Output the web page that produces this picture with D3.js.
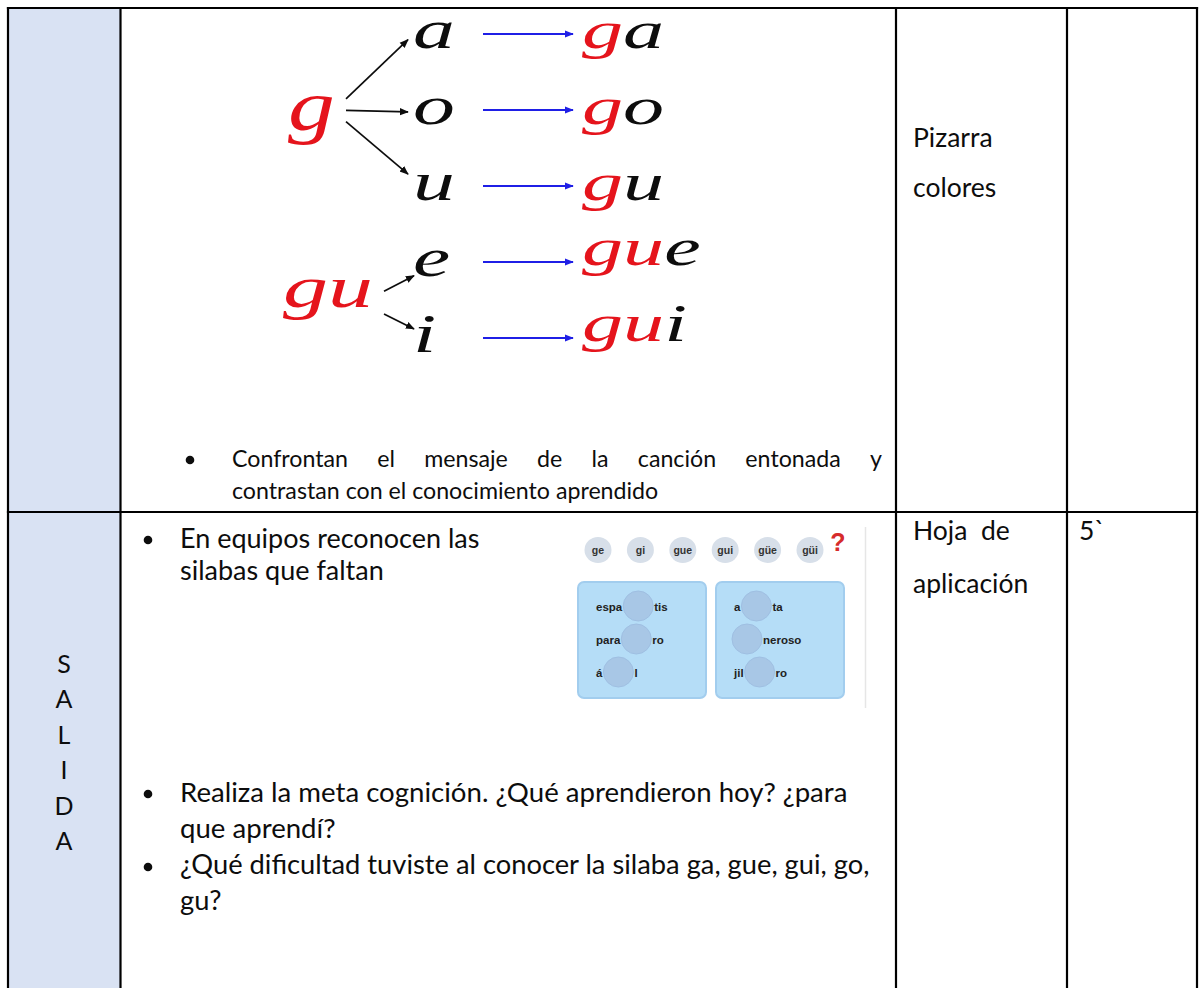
<!DOCTYPE html>
<html><head><meta charset="utf-8">
<script src="https://cdn.jsdelivr.net/npm/d3@7"></script>
<style>
html,body{margin:0;padding:0;background:#fff;}
svg{display:block;}
</style></head>
<body>
<svg id="c" width="1199" height="988"></svg>
<script>
// ---------- data ----------
const prefixes = ["g","g","g","gu","gu"];
const vowels = ["a","o","u","e","i"];
const sources = ["g","gu"];
const inicioBullet = ["Confrontan el mensaje de la canción entonada y","contrastan con el conocimiento aprendido"];
const salidaBullet1 = ["En equipos reconocen las","silabas que faltan"];
const salidaBullet2 = ["Realiza la meta cognición. ¿Qué aprendieron hoy? ¿para","que aprendí?"];
const salidaBullet3 = ["¿Qué dificultad tuviste al conocer la silaba ga, gue, gui, go,","gu?"];
const materialsInicio = ["Pizarra","colores"];
const materialsSalida = ["Hoja  de","aplicación"];
const timeSalida = ["5`"];
const phaseLetters = ["S","A","L","I","D","A"];
const chipLabels = ["ge","gi","gue","gui","güe","güi"];
const leftPanelRows = [["espa","tis"],["para","ro"],["á","l"]];
const rightPanelRows = [["a","ta"],["","neroso"],["jil","ro"]];

// ---------- layout ----------
const svg = d3.select("#c");
const W = 1199, H = 988;
const colX = d3.scaleOrdinal().domain(["left","c1","c2","c3","right"]).range([8,120.5,896,1067,1197]);
const rowLine = d3.scaleOrdinal().domain(["top","mid"]).range([8,512]);
const BODY = "Lato, 'Open Sans', sans-serif";
const RED = "#e5141c", BLUE = "#1f1fe6", INK = "#0d0d0d";

// column 1 background
svg.append("rect").attr("x",colX("left")).attr("y",rowLine("top"))
  .attr("width",colX("c1")-colX("left")).attr("height",H)
  .attr("fill","#d9e2f3");

// ---------- diagram ----------
const dg = svg.append("g");
const defs = svg.append("defs");
function marker(id,color,size){
  defs.append("marker").attr("id",id).attr("viewBox","0 0 10 10")
    .attr("refX",9).attr("refY",5).attr("markerWidth",size).attr("markerHeight",size)
    .attr("orient","auto").attr("markerUnits","userSpaceOnUse")
    .append("path").attr("d","M0,1 L10,5 L0,9 z").attr("fill",color);
}
marker("mb",INK,9); marker("mbl",BLUE,9);

const rowY = d3.scalePoint().domain(d3.range(vowels.length)).range([48,352]);
const CUR = "'Liberation Serif', 'DejaVu Serif', serif";
function cursive(g, x, y, size, sx){
  return g.append("text").attr("transform",`translate(${x},${y}) scale(${sx},1)`)
    .attr("font-family",CUR).attr("font-style","italic").attr("font-size",size);
}

// source letters
const srcBase = [rowY(1)+6, (rowY(3)+rowY(4))/2 - 7];
const srcX = [288, 283];
const srcSize = [72, 60], srcScale = [1.3, 1.5];
sources.forEach((s,k)=>{
  cursive(dg, srcX[k], srcBase[k], srcSize[k], srcScale[k]).text(s).attr("fill",RED);
});
// vowels + arrows
vowels.forEach((v,i)=>{
  const y = rowY(i);
  const k = prefixes[i]==="g"?0:1;
  const c = y-12;
  cursive(dg, 413, y, 54, 1.55).text(v).attr("fill",INK);
  const sy = k===0 ? 110 + (c-110)*0.15 : 303 + (c-303)*0.3;
  const sx = k===0 ? 346 : 384;
  const ey = k===0 ? c + (110-c)*0.05 - (i===2?10:0) : c + (303-c)*0.3;
  const ex = k===0 ? 408 : 414;
  dg.append("line").attr("x1",sx).attr("y1",sy).attr("x2",ex).attr("y2",ey)
    .attr("stroke",INK).attr("stroke-width",1.7).attr("marker-end","url(#mb)");
  // blue arrow
  dg.append("line").attr("x1",483).attr("y1",c-2).attr("x2",573).attr("y2",c-2)
    .attr("stroke",BLUE).attr("stroke-width",2).attr("marker-end","url(#mbl)");
  // result syllable
  const t = cursive(dg, 582, y - (k? 11:0), 53, 1.55);
  t.append("tspan").text(prefixes[i]).attr("fill",RED);
  t.append("tspan").text(v).attr("fill",INK);
});

// ---------- text helpers ----------
function line(g, str, x, y, size, opts={}){
  const t = g.append("text").attr("x",x).attr("y",y).attr("font-family",BODY)
    .attr("font-size",size).attr("fill",INK).style("white-space","pre").text(str);
  if(opts.anchor) t.attr("text-anchor",opts.anchor);
  return t;
}
function justified(g, str, x0, x1, y, size){
  const words = str.split(" ");
  const nodes = words.map(w=>line(g,w,0,y,size));
  const widths = nodes.map(n=>n.node().getComputedTextLength());
  const gap = (x1-x0-d3.sum(widths))/(words.length-1);
  let x = x0;
  nodes.forEach((n,i)=>{ n.attr("x",x); x += widths[i]+gap; });
}
function bullet(g,x,y){ g.append("circle").attr("cx",x).attr("cy",y).attr("r",4.3).attr("fill",INK); }

const tg = svg.append("g");
// Inicio bullet
bullet(tg,190,460);
justified(tg, inicioBullet[0], 232, 882, 467, 23.2);
line(tg, inicioBullet[1], 232, 499, 23.2);

// materials
materialsInicio.forEach((s,i)=> line(tg, s, 913, 147 + i*50, 26.5));
materialsSalida.forEach((s,i)=> line(tg, s, 913, 540 + i*53, 26.5));
timeSalida.forEach((s,i)=> line(tg, s, 1079, 540, 26.5));

// Salida bullets
bullet(tg,148,540);
salidaBullet1.forEach((s,i)=> line(tg, s, 180, 548 + i*32, 27));
bullet(tg,148,794);
salidaBullet2.forEach((s,i)=> line(tg, s, 180, 802 + i*36, 27.6));
bullet(tg,148,867);
salidaBullet3.forEach((s,i)=> line(tg, s, 180, 874 + i*36, 27.3));

// phase letters
const phaseY = d3.scalePoint().domain(d3.range(phaseLetters.length)).range([673,850]);
phaseLetters.forEach((s,i)=> line(tg, s, 64, phaseY(i), 25, {anchor:"middle"}));

// ---------- exercise card ----------
const cg = svg.append("g");
const CARD = "'Liberation Sans', Arial, sans-serif";
cg.append("line").attr("x1",865.5).attr("x2",865.5).attr("y1",527).attr("y2",708)
  .attr("stroke","#e6e6e6").attr("stroke-width",1.5);
const chipX = d3.scalePoint().domain(chipLabels).range([598,810]);
chipLabels.forEach(l=>{
  cg.append("ellipse").attr("cx",chipX(l)).attr("cy",550).attr("rx",13.5).attr("ry",13)
    .attr("fill","#d7dfe9");
  cg.append("text").text(l).attr("x",chipX(l)).attr("y",554).attr("text-anchor","middle")
    .attr("font-family",CARD).attr("font-weight","bold").attr("font-size",10.5).attr("fill","#333");
});
cg.append("text").text("?").attr("x",838).attr("y",551).attr("text-anchor","middle")
  .attr("font-family",CARD).attr("font-weight","bold").attr("font-size",25).attr("fill","#d62b2b");

const panelX = d3.scaleOrdinal().domain([0,1]).range([578,716]);
const panelRowY = d3.scalePoint().domain([0,1,2]).range([606,672]);
[leftPanelRows,rightPanelRows].forEach((rows,p)=>{
  const px = panelX(p);
  cg.append("rect").attr("x",px).attr("y",582).attr("width",128).attr("height",116).attr("rx",6)
    .attr("fill","#b5ddf7").attr("stroke","#a2cdee").attr("stroke-width",2);
  rows.forEach((r,j)=>{
    const y = panelRowY(j);
    const tx = px + 18;
    const pre = cg.append("text").text(r[0]).attr("x",tx).attr("y",y+4.5)
      .attr("font-family",CARD).attr("font-weight","bold").attr("font-size",11.5).attr("fill","#222");
    const end = r[0] ? tx + pre.node().getComputedTextLength() : tx - 3;
    const cx = end + 16;
    cg.insert("circle", () => pre.node()).attr("cx",cx).attr("cy",y).attr("r",15)
      .attr("fill","#a8c7e6").attr("stroke","#9fbfe2").attr("stroke-width",1);
    cg.append("text").text(r[1]).attr("x",cx+16).attr("y",y+4.5)
      .attr("font-family",CARD).attr("font-weight","bold").attr("font-size",11.5).attr("fill","#222");
  });
});

// ---------- table grid ----------
const grid = svg.append("g").attr("stroke","#000").attr("stroke-width",2.2);
["left","c1","c2","c3","right"].forEach(k=>{
  grid.append("line").attr("x1",colX(k)).attr("x2",colX(k)).attr("y1",rowLine("top")-1.1).attr("y2",H);
});
["top","mid"].forEach(k=>{
  grid.append("line").attr("x1",colX("left")-1.1).attr("x2",colX("right")+1.1)
    .attr("y1",rowLine(k)).attr("y2",rowLine(k));
});
</script>
</body></html>
